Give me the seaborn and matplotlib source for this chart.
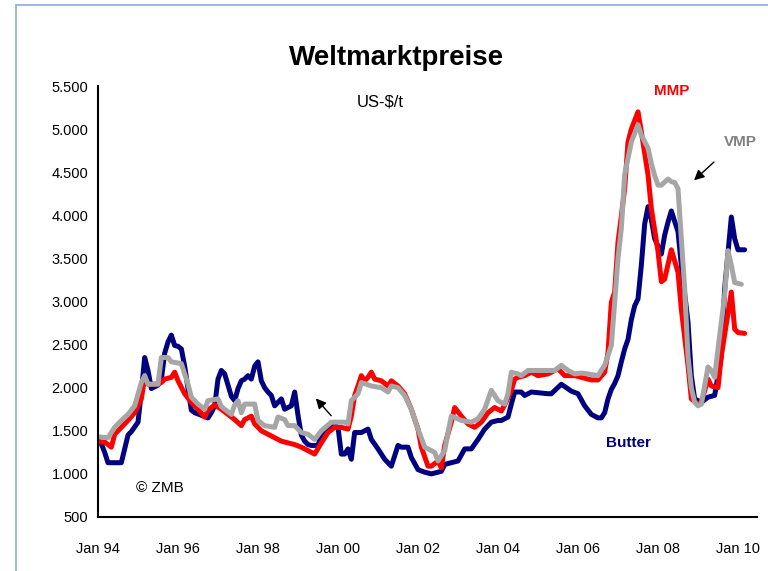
import matplotlib
matplotlib.use("Agg")
import matplotlib.pyplot as plt
import matplotlib.ticker as mticker
from matplotlib.lines import Line2D
import pandas as pd
import seaborn as sns

# months since Jan 1994, price in US-$/t
butter_month = [0, 1, 2, 3, 7, 9, 10, 12, 13, 14, 15, 16, 18, 19, 20, 21, 22, 23, 24, 25, 26, 27, 28, 29,
                31, 33, 34, 35, 36, 37, 38, 39, 40, 41, 42, 43, 44, 45, 46, 47, 48, 49, 50, 51, 52, 53, 55,
                56, 57, 58, 59, 60, 61, 62, 63, 64, 66, 67, 68, 70, 71, 72, 73, 74, 75, 76, 77, 79, 81, 82,
                84, 86, 88, 90, 91, 93, 94, 96, 98, 100, 103, 104, 106, 108, 110, 112, 114, 116, 118, 120,
                121, 123, 124, 125, 127, 128, 130, 135, 136, 139, 142, 144, 146, 148, 150, 151, 152, 153,
                154, 155, 156, 157, 158, 159, 160, 161, 162, 163, 164, 165, 166, 167, 169, 170, 171, 172,
                174, 175, 177, 178, 179, 181, 183, 185, 187, 188, 190, 191, 192, 194]
butter_price = [1400, 1350, 1250, 1130, 1130, 1450, 1490, 1600, 1950, 2350, 2200, 1990, 2030, 2090, 2400,
                2530, 2610, 2490, 2480, 2450, 2250, 1990, 1740, 1710, 1680, 1650, 1710, 1790, 2100, 2200,
                2160, 2030, 1900, 1850, 1990, 2080, 2100, 2140, 2100, 2250, 2300, 2080, 2000, 1950, 1910,
                1790, 1870, 1750, 1770, 1790, 1950, 1680, 1450, 1380, 1340, 1330, 1330, 1460, 1520, 1530,
                1560, 1540, 1230, 1230, 1290, 1170, 1480, 1480, 1520, 1400, 1290, 1170, 1090, 1330, 1310,
                1310, 1190, 1050, 1020, 1000, 1030, 1110, 1130, 1150, 1290, 1290, 1400, 1520, 1600, 1620,
                1620, 1660, 1810, 1950, 1950, 1910, 1950, 1930, 1930, 2040, 1960, 1930, 1790, 1690, 1650,
                1650, 1710, 1870, 1980, 2050, 2140, 2300, 2450, 2560, 2790, 2950, 3030, 3420, 3900, 4100,
                3950, 3730, 3550, 3770, 3920, 4050, 3810, 3420, 2760, 2140, 1870, 1830, 1890, 1910, 2370,
                3150, 3980, 3730, 3600, 3600]

mmp_month = [0, 2, 4, 5, 7, 9, 11, 13, 14, 15, 17, 19, 20, 22, 23, 24, 26, 28, 30, 32, 33, 35, 37, 39, 41,
             43, 44, 46, 47, 49, 51, 53, 55, 57, 59, 61, 63, 65, 67, 69, 71, 73, 75, 76, 77, 78, 79, 80, 81,
             82, 83, 85, 87, 88, 90, 92, 94, 96, 97, 99, 100, 102, 103, 104, 106, 107, 109, 111, 113, 115,
             117, 119, 121, 122, 124, 125, 126, 128, 130, 132, 135, 138, 140, 143, 145, 148, 150, 152, 153,
             154, 155, 156, 157, 158, 159, 160, 161, 162, 163, 165, 166, 168, 169, 170, 172, 174, 175, 177,
             178, 180, 181, 183, 184, 186, 187, 190, 191, 192, 194]
mmp_price = [1370, 1370, 1310, 1460, 1540, 1620, 1710, 1870, 2120, 2040, 2040, 2060, 2100, 2120, 2180,
             2080, 1930, 1830, 1750, 1660, 1740, 1800, 1750, 1690, 1630, 1560, 1630, 1670, 1580, 1500,
             1460, 1420, 1380, 1360, 1340, 1310, 1270, 1230, 1360, 1480, 1540, 1540, 1520, 1670, 1910,
             2020, 2140, 2080, 2120, 2180, 2100, 2080, 2020, 2080, 2020, 1930, 1750, 1520, 1310, 1090,
             1090, 1150, 1070, 1330, 1600, 1770, 1670, 1580, 1540, 1600, 1710, 1770, 1730, 1800, 1970,
             2100, 2120, 2140, 2180, 2140, 2160, 2220, 2140, 2140, 2120, 2090, 2090, 2180, 2410, 2990,
             3110, 3690, 3990, 4310, 4850, 5000, 5100, 5200, 4970, 4470, 4080, 3580, 3230, 3260, 3600,
             3340, 2910, 2260, 1870, 1810, 1830, 2100, 2020, 2000, 2370, 3110, 2680, 2640, 2630]

vmp_month = [0, 3, 4, 5, 7, 9, 11, 13, 14, 15, 18, 19, 21, 22, 25, 27, 28, 30, 32, 33, 36, 37, 40, 41, 42,
             43, 44, 47, 48, 50, 53, 54, 56, 57, 59, 61, 63, 65, 67, 70, 72, 74, 75, 76, 78, 79, 82, 85, 87,
             88, 90, 92, 94, 96, 98, 100, 101, 102, 104, 105, 106, 109, 112, 114, 116, 118, 120, 122, 123,
             124, 126, 127, 129, 134, 137, 139, 141, 143, 145, 147, 150, 152, 154, 155, 156, 157, 158, 160,
             162, 163, 165, 166, 167, 168, 169, 171, 172, 173, 174, 175, 176, 177, 178, 179, 180, 181, 183,
             184, 185, 186, 188, 189, 190, 191, 193]
vmp_price = [1430, 1420, 1480, 1540, 1620, 1690, 1790, 2060, 2140, 2040, 2040, 2350, 2350, 2300, 2280,
             2040, 1890, 1810, 1750, 1850, 1870, 1780, 1690, 1800, 1850, 1710, 1810, 1810, 1620, 1560,
             1540, 1660, 1630, 1560, 1560, 1480, 1460, 1400, 1500, 1600, 1600, 1600, 1580, 1850, 1930,
             2060, 2020, 2000, 1950, 2020, 2000, 1910, 1750, 1520, 1310, 1270, 1250, 1150, 1270, 1480,
             1670, 1620, 1600, 1640, 1750, 1970, 1850, 1810, 1930, 2180, 2160, 2140, 2200, 2200, 2200,
             2260, 2200, 2160, 2170, 2160, 2140, 2260, 2490, 2990, 3500, 3850, 4470, 4850, 5050, 4930,
             4780, 4600, 4460, 4350, 4350, 4420, 4390, 4380, 4310, 3730, 3150, 2370, 2000, 1830, 1790,
             1810, 2240, 2200, 2120, 2450, 3070, 3590, 3420, 3220, 3200]

series_names = ["Butter", "MMP", "VMP"]
series_colors = ["#000080", "#FF0000", "#A6A6A6"]
tick_years = list(range(1994, 2011, 2))
tick_labels = ["Jan %02d" % (y % 100) for y in tick_years]


def to_frame(name, months, prices):
    return pd.DataFrame({"year": [1994 + m / 12 for m in months], "price": prices, "series": name})


df = pd.concat([
    to_frame("Butter", butter_month, butter_price),
    to_frame("MMP", mmp_month, mmp_price),
    to_frame("VMP", vmp_month, vmp_price),
], ignore_index=True)

sns.set_style("white")
plt.rcParams["font.family"] = ["Liberation Sans", "DejaVu Sans"]
plt.rcParams["text.color"] = "black"
plt.rcParams["xtick.color"] = "black"
plt.rcParams["ytick.color"] = "black"

fig = plt.figure(figsize=(7.68, 5.71), dpi=100)
ax = fig.add_axes([98 / 768, 1 - 517 / 571, 659 / 768, 431 / 571])

sns.lineplot(data=df, x="year", y="price", hue="series", hue_order=series_names,
             palette=series_colors, linewidth=3.6, legend=False, ax=ax, estimator=None,
             solid_joinstyle="round", solid_capstyle="round")

ax.set_xlim(1994, 1994 + 659 / 40)
ax.set_ylim(500, 5500)
ax.set_xticks(tick_years)
ax.set_xticklabels(tick_labels)
ax.yaxis.set_major_locator(mticker.MultipleLocator(500))
ax.yaxis.set_major_formatter(mticker.FuncFormatter(lambda v, p: "{:,.0f}".format(v).replace(",", ".")))
ax.set_xlabel("")
ax.set_ylabel("")
ax.tick_params(axis="both", direction="out", length=5, width=1.2, color="black",
               labelcolor="black", labelsize=10.5)
ax.tick_params(axis="y", pad=2)
ax.tick_params(axis="x", pad=13)
for side in ["top", "right"]:
    ax.spines[side].set_visible(False)
for side in ["left", "bottom"]:
    ax.spines[side].set_color("black")
    ax.spines[side].set_linewidth(1.5)

fig.text(397 / 768, 1 - 58 / 571, "Weltmarktpreise", ha="center", va="center",
         fontsize=20, fontweight="bold", color="black")
ax.text(2001.05, 5314, "US-$/t", ha="center", va="center", fontsize=12)
ax.text(2008.35, 5440, "MMP", ha="center", va="center", fontsize=11,
        fontweight="bold", color="#FF0000")
ax.text(2010.05, 4850, "VMP", ha="center", va="center", fontsize=11,
        fontweight="bold", color="#808080")
ax.text(2007.25, 1360, "Butter", ha="center", va="center", fontsize=11,
        fontweight="bold", color="#000080")
ax.text(1995.55, 837, "\u00a9 ZMB", ha="center", va="center", fontsize=11)

ax.annotate("", xy=(1999.4, 1900), xytext=(1999.875, 1651),
            arrowprops=dict(arrowstyle="-|>", color="black", lw=1, mutation_scale=15))
ax.annotate("", xy=(2008.85, 4384), xytext=(2009.45, 4640),
            arrowprops=dict(arrowstyle="-|>", color="black", lw=1, mutation_scale=15))

# thin frame around the chart area
fig.add_artist(Line2D([16 / 768, 1], [1 - 5 / 571, 1 - 5 / 571], color="#8FAADC", lw=1.2))
fig.add_artist(Line2D([16 / 768, 16 / 768], [0, 1 - 5 / 571], color="#8FAADC", lw=1.2))

fig.savefig("out.png", dpi=100)
